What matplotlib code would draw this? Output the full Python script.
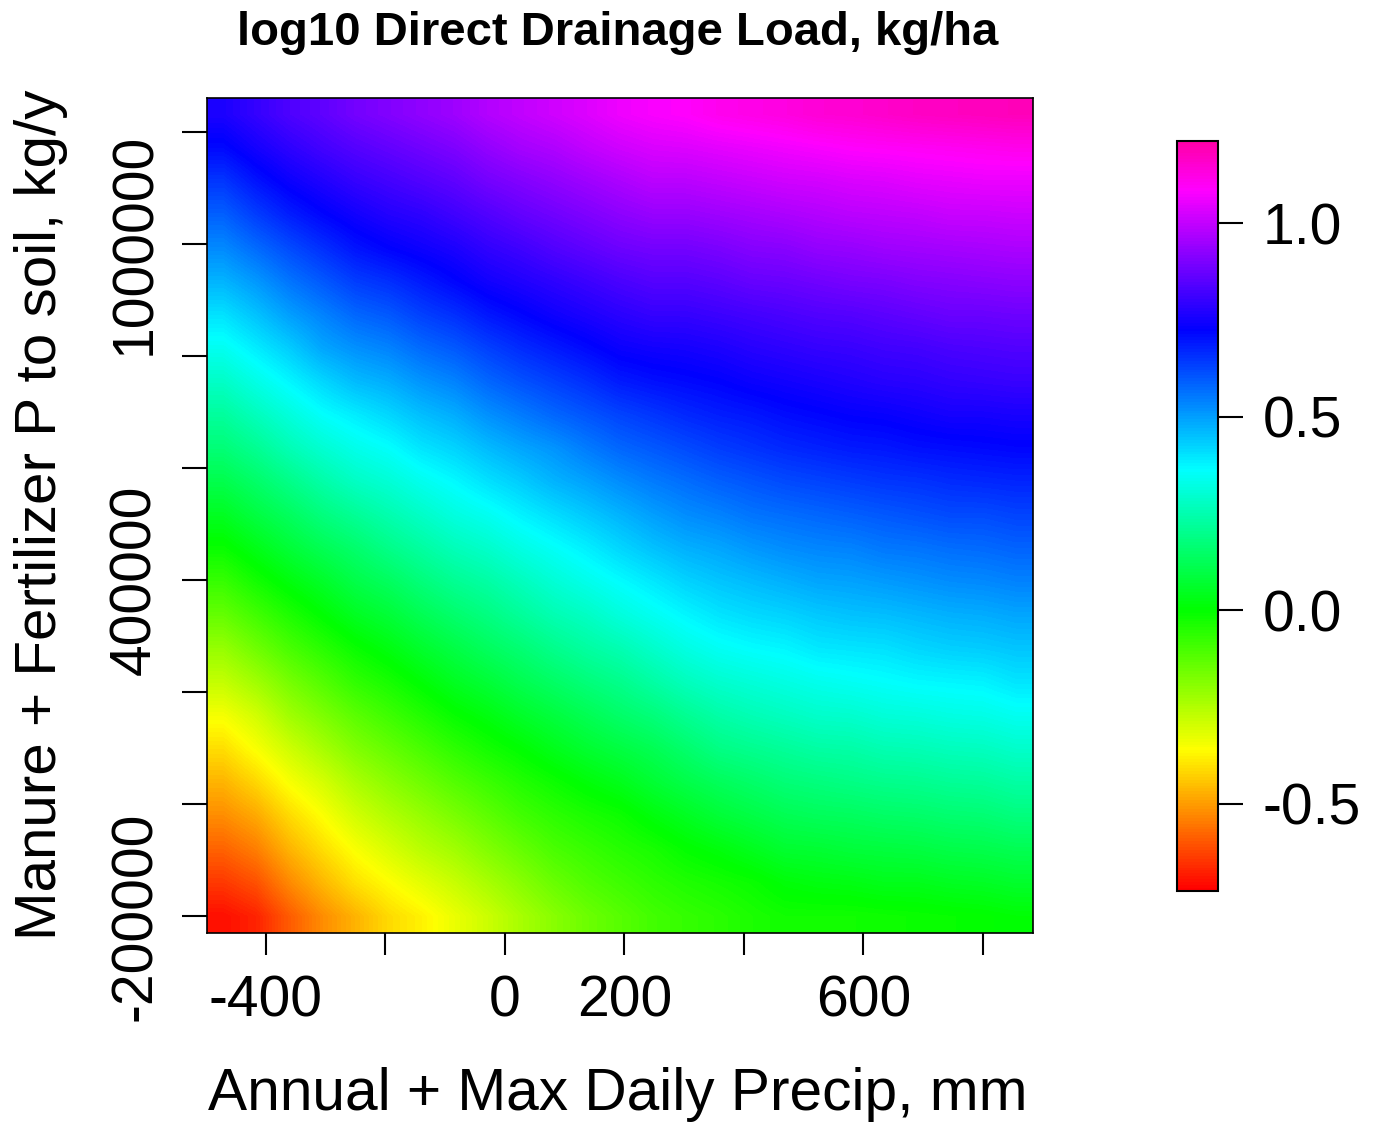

import colorsys

import matplotlib
matplotlib.use('Agg')
import matplotlib.pyplot as plt
import numpy as np
from matplotlib.colors import ListedColormap, Normalize

plt.rcParams['font.family'] = ['Liberation Sans', 'DejaVu Sans']

W, H = 1373, 1127

# ---- values, one list per column (left to right), rows top to bottom ----
col_01 = [.775, .725, .66, .60, .54, .48, .415, .355, .295, .235, .18, .12, .06, 0, -.065, -.13, -.20, -.265, -.335, -.395, -.455, -.51, -.57, -.63, -.69]
col_02 = [.81, .765, .71, .65, .585, .52, .46, .40, .34, .28, .22, .16, .105, .045, -.015, -.08, -.145, -.215, -.285, -.34, -.405, -.47, -.53, -.595, -.66]
col_03 = [.845, .80, .75, .695, .63, .57, .51, .445, .385, .325, .27, .205, .145, .09, .03, -.03, -.09, -.155, -.215, -.28, -.34, -.40, -.455, -.515, -.58]
col_04 = [.87, .83, .78, .73, .67, .61, .55, .50, .43, .37, .31, .25, .19, .13, .07, .015, -.045, -.105, -.165, -.225, -.29, -.345, -.395, -.45, -.51]
col_05 = [.90, .855, .81, .76, .71, .65, .59, .53, .47, .40, .345, .29, .225, .165, .115, .06, 0, -.055, -.115, -.17, -.23, -.285, -.34, -.39, -.455]
col_06 = [.92, .875, .83, .785, .735, .67, .61, .55, .49, .43, .37, .315, .26, .205, .145, .09, .035, -.02, -.075, -.13, -.185, -.24, -.295, -.35, -.40]
col_07 = [.94, .895, .85, .80, .755, .70, .645, .585, .525, .465, .41, .35, .295, .24, .185, .13, .075, .02, -.035, -.09, -.145, -.20, -.25, -.31, -.365]
col_08 = [.96, .915, .87, .825, .775, .73, .67, .61, .55, .49, .435, .38, .33, .275, .22, .165, .11, .06, .005, -.05, -.105, -.16, -.215, -.27, -.32]
col_09 = [.99, .945, .90, .85, .805, .76, .705, .645, .59, .53, .47, .415, .355, .30, .245, .195, .145, .09, .035, -.015, -.07, -.12, -.17, -.225, -.275]
col_10 = [1.01, .97, .92, .875, .825, .78, .73, .675, .62, .56, .50, .445, .39, .335, .28, .23, .175, .125, .07, .015, -.035, -.08, -.13, -.18, -.225]
col_11 = [1.03, .985, .94, .895, .85, .80, .755, .70, .645, .59, .525, .48, .42, .365, .315, .265, .21, .155, .10, .05, -.005, -.05, -.09, -.135, -.18]
col_12 = [1.05, 1.01, .96, .915, .87, .82, .775, .725, .67, .615, .56, .505, .45, .395, .345, .29, .24, .185, .13, .08, .025, -.025, -.065, -.10, -.14]
col_13 = [1.075, 1.03, .98, .935, .89, .84, .795, .75, .70, .64, .59, .535, .48, .43, .375, .325, .265, .21, .16, .105, .05, -.005, -.04, -.075, -.11]
col_14 = [1.09, 1.045, 1.0, .95, .90, .855, .81, .76, .715, .66, .61, .56, .51, .46, .405, .355, .30, .245, .185, .13, .085, .03, -.02, -.05, -.08]
col_15 = [1.10, 1.05, 1.0, .95, .90, .855, .81, .765, .725, .68, .63, .58, .535, .485, .435, .385, .335, .28, .22, .165, .115, .06, .01, -.03, -.06]
col_16 = [1.12, 1.06, 1.01, .96, .91, .865, .82, .775, .735, .695, .65, .60, .55, .50, .455, .41, .36, .305, .25, .20, .14, .09, .03, -.015, -.045]
col_17 = [1.13, 1.07, 1.02, .97, .925, .88, .83, .79, .75, .705, .665, .615, .57, .52, .47, .425, .375, .32, .27, .215, .16, .11, .055, 0, -.025]
col_18 = [1.14, 1.08, 1.03, .98, .93, .885, .84, .80, .76, .72, .68, .63, .58, .535, .485, .435, .385, .335, .285, .23, .18, .13, .08, .025, -.01]
col_19 = [1.155, 1.09, 1.035, .99, .945, .895, .85, .81, .77, .73, .69, .64, .59, .545, .50, .45, .405, .35, .30, .245, .19, .14, .085, .035, -.01]
col_20 = [1.16, 1.10, 1.045, 1.0, .95, .905, .855, .815, .78, .74, .70, .65, .60, .55, .505, .46, .41, .36, .305, .25, .20, .145, .095, .04, -.01]
col_21 = [1.17, 1.105, 1.05, 1.005, .96, .91, .865, .825, .79, .745, .705, .66, .61, .565, .515, .465, .415, .37, .32, .265, .21, .155, .10, .05, -.005]
col_22 = [1.18, 1.11, 1.06, 1.01, .965, .92, .875, .83, .795, .755, .715, .665, .62, .57, .525, .475, .43, .38, .325, .27, .215, .16, .105, .05, 0]
col_23 = [1.185, 1.115, 1.065, 1.02, .97, .925, .885, .84, .805, .765, .72, .675, .63, .58, .535, .485, .44, .385, .335, .28, .225, .17, .115, .06, .005]
col_24 = [1.19, 1.12, 1.07, 1.02, .975, .93, .885, .845, .81, .765, .725, .68, .63, .585, .54, .49, .445, .39, .34, .285, .23, .175, .12, .065, .01]
col_25 = [1.195, 1.125, 1.07, 1.025, .98, .935, .89, .85, .815, .77, .73, .685, .64, .595, .55, .50, .455, .41, .355, .30, .245, .19, .13, .075, .02]

columns = [col_01, col_02, col_03, col_04, col_05, col_06, col_07, col_08, col_09, col_10,
           col_11, col_12, col_13, col_14, col_15, col_16, col_17, col_18, col_19, col_20,
           col_21, col_22, col_23, col_24, col_25]

x_ticks = [-400, -200, 0, 200, 400, 600, 800]
x_labels = ['-400', '', '0', '200', '', '600', '']
y_ticks = [-200000, 0, 200000, 400000, 600000, 800000, 1000000, 1200000]
y_labels = ['-200000', '', '', '400000', '', '', '1000000', '']
bar_ticks = [-0.5, 0.0, 0.5, 1.0]
bar_labels = ['-0.5', '0.0', '0.5', '1.0']


def axes_px(x0, y0, x1, y1):
    """Axes from pixel corners, y measured from the top."""
    return fig.add_axes([x0 / W, 1 - y1 / H, (x1 - x0) / W, (y1 - y0) / H])


# R style rainbow, red to pink
hues = np.linspace(0, 0.89, 256)
rainbow = ListedColormap([colorsys.hsv_to_rgb(h, 1, 1) for h in hues])
norm = Normalize(-0.725, 1.212)

fig = plt.figure(figsize=(W / 100, H / 100), dpi=100, facecolor='white')

ax = axes_px(207, 98, 1033, 933)
grid = np.array(columns).T - 0.012  # colour levels sit slightly below the read-off ones
im = ax.imshow(grid, cmap=rainbow, norm=norm, aspect='auto', origin='upper',
               interpolation='bilinear',
               extent=(-498.7, 883.7, -230300, 1260600))
ax.set_xticks(x_ticks, x_labels)
ax.set_yticks(y_ticks, y_labels)
ax.tick_params(axis='x', length=16, width=1.5, labelsize=41, pad=14)
ax.tick_params(axis='y', length=18, width=1.5, labelsize=41, pad=14)
for lab in ax.get_yticklabels():
    lab.set_rotation(90)
    lab.set_va('center')
for s in ax.spines.values():
    s.set_linewidth(1.2)

fig.text(618 / W, 1 - 33 / H, 'log10 Direct Drainage Load, kg/ha', ha='center', va='center',
         fontsize=34, fontweight='bold')
fig.text(618 / W, 1 - 1094 / H, 'Annual + Max Daily Precip, mm', ha='center', va='center',
         fontsize=42.2)
fig.text(41 / W, 1 - 515 / H, 'Manure + Fertilizer P to soil, kg/y', ha='center', va='center',
         rotation=90, fontsize=42)

cax = axes_px(1177, 141, 1218, 891)
cb = fig.colorbar(im, cax=cax, ticks=bar_ticks)
cb.set_ticklabels(bar_labels)
cb.ax.tick_params(length=18, width=1.5, labelsize=41, pad=14)
cb.outline.set_linewidth(1.5)

fig.savefig('out.png', dpi=100)
plt.close()
